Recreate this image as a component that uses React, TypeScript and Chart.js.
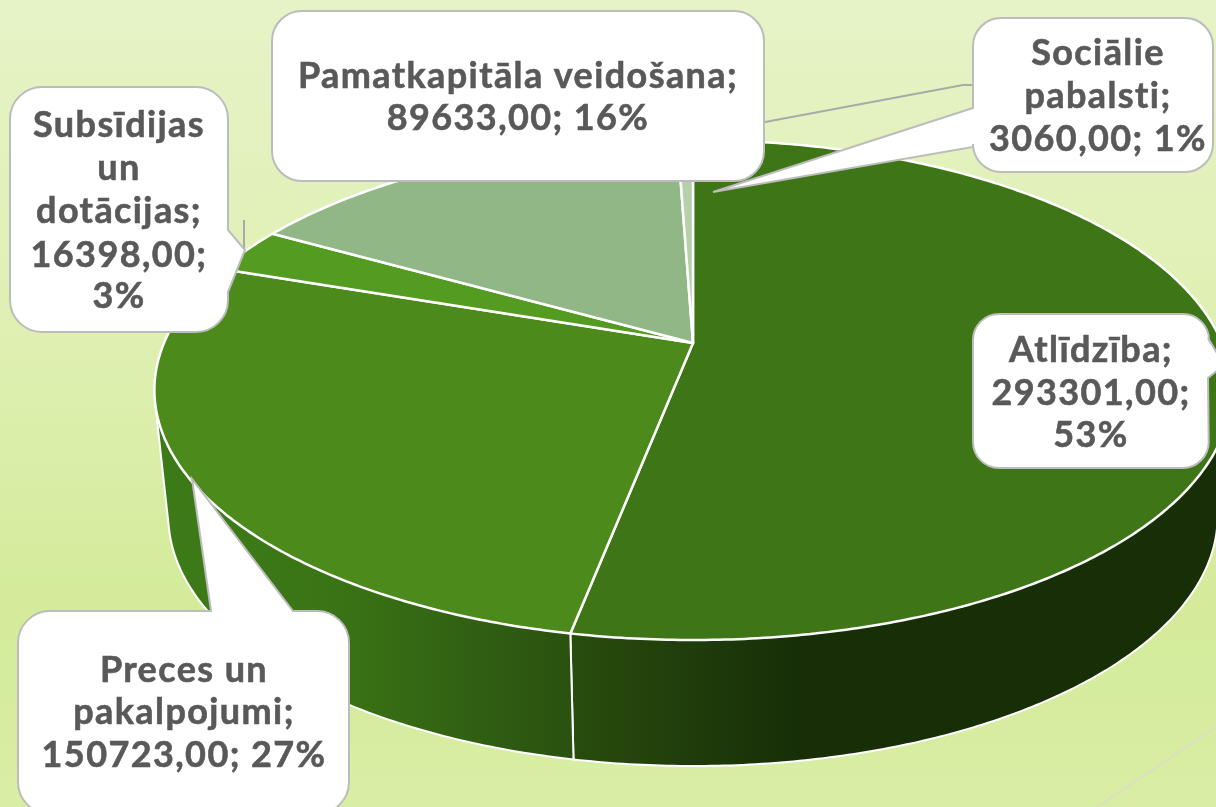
import React, { useEffect, useRef } from "react";
import { Chart, ArcElement, PieController } from "chart.js";

const categories = ["Atlīdzība", "Preces un pakalpojumi", "Subsīdijas un dotācijas", "Pamatkapitāla veidošana", "Sociālie pabalsti"];
const values = [293301, 150723, 16398, 89633, 3060];
const sliceColors = ["#3e7516", "#4b8a1b", "#549b22", "#92b787", "#b6d0ac"];
const labelLines = [
  ["Atlīdzība;", "293301,00;", "53%"],
  ["Preces un", "pakalpojumi;", "150723,00; 27%"],
  ["Subsīdijas", "un", "dotācijas;", "16398,00;", "3%"],
  ["Pamatkapitāla veidošana;", "89633,00; 16%"],
  ["Sociālie", "pabalsti;", "3060,00; 1%"],
];

// Projection of the pie's unit circle on the page (tilted, with perspective)
const APEX_X = 693, APEX_Y = 343, PERSP = -0.188, SCALE_Y = 176.7, SCALE_X = 529;
const DEPTH = 126, BOTTOM_SHRINK = 527 / 541;
const rim = (a: number) => {
  const u = Math.cos(a), v = Math.sin(a), w = 1 + PERSP * v;
  return { x: APEX_X + (SCALE_X * u) / w, y: (APEX_Y + SCALE_Y * v) / w };
};
const floor = (a: number) => {
  const p = rim(a);
  return { x: APEX_X + (p.x - APEX_X) * BOTTOM_SHRINK, y: p.y + DEPTH };
};

(ArcElement.prototype as any).draw = function (ctx: CanvasRenderingContext2D) {
  const { startAngle, endAngle, options } = this as any;
  ctx.save();
  ctx.beginPath();
  ctx.moveTo(APEX_X, APEX_Y);
  const n = Math.max(2, Math.ceil((endAngle - startAngle) / 0.01));
  for (let i = 0; i <= n; i++) {
    const p = rim(startAngle + ((endAngle - startAngle) * i) / n);
    ctx.lineTo(p.x, p.y);
  }
  ctx.closePath();
  ctx.fillStyle = options.backgroundColor;
  ctx.fill();
  ctx.strokeStyle = options.borderColor;
  ctx.lineWidth = options.borderWidth;
  ctx.lineJoin = "round";
  ctx.stroke();
  ctx.restore();
};

Chart.register(ArcElement, PieController);

const wallStops: [number, string][][] = [
  [[575, "#284c0e"], [800, "#172e07"]],
  [[230, "#3c7a17"], [350, "#397215"], [571, "#2a5110"]],
];

const wallsPlugin = {
  id: "walls",
  beforeDatasetsDraw(chart: any) {
    const ctx: CanvasRenderingContext2D = chart.ctx;
    const arcs = chart.getDatasetMeta(0).data;
    arcs.forEach((arc: any, idx: number) => {
      const stops = wallStops[idx];
      if (!stops) return;
      const n = Math.ceil((arc.endAngle - arc.startAngle) / 0.01);
      const quads: any[] = [];
      for (let i = 0; i < n; i++) {
        const a0 = arc.startAngle + ((arc.endAngle - arc.startAngle) * i) / n;
        const a1 = arc.startAngle + ((arc.endAngle - arc.startAngle) * (i + 1)) / n;
        const q = [rim(a0), rim(a1), floor(a1), floor(a0)];
        let area = 0;
        for (let k = 0; k < 4; k++) {
          const p = q[k], r = q[(k + 1) % 4];
          area += p.x * r.y - r.x * p.y;
        }
        if (area < 0) quads.push(q);
      }
      if (!quads.length) return;
      const x0 = stops[0][0], x1 = stops[stops.length - 1][0];
      const g = ctx.createLinearGradient(x0, 0, x1, 0);
      stops.forEach((s) => g.addColorStop((s[0] - x0) / (x1 - x0), s[1]));
      ctx.save();
      ctx.beginPath();
      quads.forEach((q) => {
        ctx.moveTo(q[0].x, q[0].y);
        for (let k = 1; k < 4; k++) ctx.lineTo(q[k].x, q[k].y);
        ctx.closePath();
      });
      ctx.fillStyle = g;
      ctx.fill();
      ctx.strokeStyle = "#ffffff";
      ctx.lineWidth = 2;
      ctx.lineJoin = "round";
      ctx.beginPath();
      const first = quads[0], last = quads[quads.length - 1];
      ctx.moveTo(first[0].x, first[0].y);
      ctx.lineTo(first[3].x, first[3].y);
      quads.forEach((q) => ctx.lineTo(q[2].x, q[2].y));
      ctx.lineTo(last[1].x, last[1].y);
      ctx.stroke();
      ctx.restore();
    });
  },
};

const backdropPlugin = {
  id: "backdrop",
  beforeDraw(chart: any) {
    const ctx: CanvasRenderingContext2D = chart.ctx;
    const g = ctx.createLinearGradient(0, 0, 0, 807);
    g.addColorStop(0, "#e6f3c7");
    g.addColorStop(0.4, "#dff0b3");
    g.addColorStop(0.75, "#d3eb9a");
    g.addColorStop(1, "#d8eea5");
    ctx.save();
    ctx.fillStyle = g;
    ctx.fillRect(0, 0, 1216, 807);
    ctx.strokeStyle = "#dcdfc0";
    ctx.lineWidth = 2;
    ctx.beginPath();
    ctx.moveTo(1216, 727);
    ctx.lineTo(1097, 807);
    ctx.stroke();
    ctx.restore();
  },
};

type Box = { x: number; y: number; w: number; h: number; r: number; tail?: number[][]; cx: number; base: number[]; side?: string };
// Callout layout, by slice index, in draw order
const boxes: Record<number, Box> = {
  0: { x: 973, y: 314, w: 236, h: 154, r: 26, cx: 1091, base: [362, 405, 447], side: "right", tail: [[1208, 338], [1224, 365], [1208, 378]] },
  1: { x: 18, y: 611, w: 331, h: 203, r: 32, cx: 184, base: [682, 724, 767], side: "top", tail: [[293, 611], [192, 479], [211, 611]] },
  2: { x: 10, y: 87, w: 218, h: 245, r: 32, cx: 119, base: [137, 180, 223, 267, 308], side: "right", tail: [[228, 230], [245, 250], [228, 292]] },
  3: { x: 272, y: 11, w: 492, h: 170, r: 30, cx: 518, base: [88, 130] },
  4: { x: 973, y: 18, w: 240, h: 154, r: 28, cx: 1098, base: [65, 108, 151], side: "left", tail: [[973, 147], [713, 192], [973, 108]] },
};
const leaders = [
  [[765, 122], [963, 85], [973, 85]],
  [[244, 220], [244, 250]],
];

function calloutPath(ctx: CanvasRenderingContext2D, b: Box) {
  const { x, y, w, h, r, tail, side } = b;
  const L = x, R = x + w, T = y, B = y + h;
  const t = tail || [];
  ctx.beginPath();
  ctx.moveTo(L + r, T);
  if (side === "top") t.slice().reverse().forEach((p) => ctx.lineTo(p[0], p[1]));
  ctx.arcTo(R, T, R, B, r);
  if (side === "right") t.forEach((p) => ctx.lineTo(p[0], p[1]));
  ctx.arcTo(R, B, L, B, r);
  ctx.arcTo(L, B, L, T, r);
  if (side === "left") t.forEach((p) => ctx.lineTo(p[0], p[1]));
  ctx.arcTo(L, T, R, T, r);
  ctx.closePath();
}

const calloutsPlugin = {
  id: "callouts",
  afterDatasetsDraw(chart: any) {
    const ctx: CanvasRenderingContext2D = chart.ctx;
    ctx.save();
    ctx.strokeStyle = "#a9a9a9";
    ctx.lineWidth = 2;
    leaders.forEach((l) => {
      ctx.beginPath();
      l.forEach((p, i) => (i ? ctx.lineTo(p[0], p[1]) : ctx.moveTo(p[0], p[1])));
      ctx.stroke();
    });
    [0, 1, 2, 3, 4].forEach((i) => {
      const b = boxes[i];
      calloutPath(ctx, b);
      ctx.fillStyle = "#ffffff";
      ctx.fill();
      ctx.strokeStyle = "#bcbcbc";
      ctx.lineWidth = 2;
      ctx.stroke();
      ctx.fillStyle = "#595959";
      ctx.strokeStyle = "#595959";
      ctx.lineWidth = 0.6;
      ctx.font = 'bold 36px "Lato"';
      (ctx as any).letterSpacing = "1.4px";
      ctx.textAlign = "center";
      ctx.textBaseline = "alphabetic";
      labelLines[i].forEach((line, k) => {
        ctx.fillText(line, b.cx, b.base[k]);
        ctx.strokeText(line, b.cx, b.base[k]);
      });
    });
    ctx.restore();
  },
};

export default function App() {
  const ref = useRef<HTMLCanvasElement>(null);
  useEffect(() => {
    const chart = new Chart(ref.current!, {
      type: "pie",
      data: {
        labels: categories,
        datasets: [{ data: values, backgroundColor: sliceColors, borderColor: "#ffffff", borderWidth: 2.5 }],
      },
      options: {
        responsive: false,
        animation: false,
        events: [],
        plugins: { legend: { display: false }, tooltip: { enabled: false } } as any,
      },
      plugins: [backdropPlugin, wallsPlugin, calloutsPlugin],
    } as any);
    return () => chart.destroy();
  }, []);
  return (
    <div style={{ position: "absolute", left: 0, top: 0, width: 1216, height: 807, overflow: "hidden" }}>
      <canvas ref={ref} width={1216} height={807} style={{ display: "block" }} />
    </div>
  );
}
